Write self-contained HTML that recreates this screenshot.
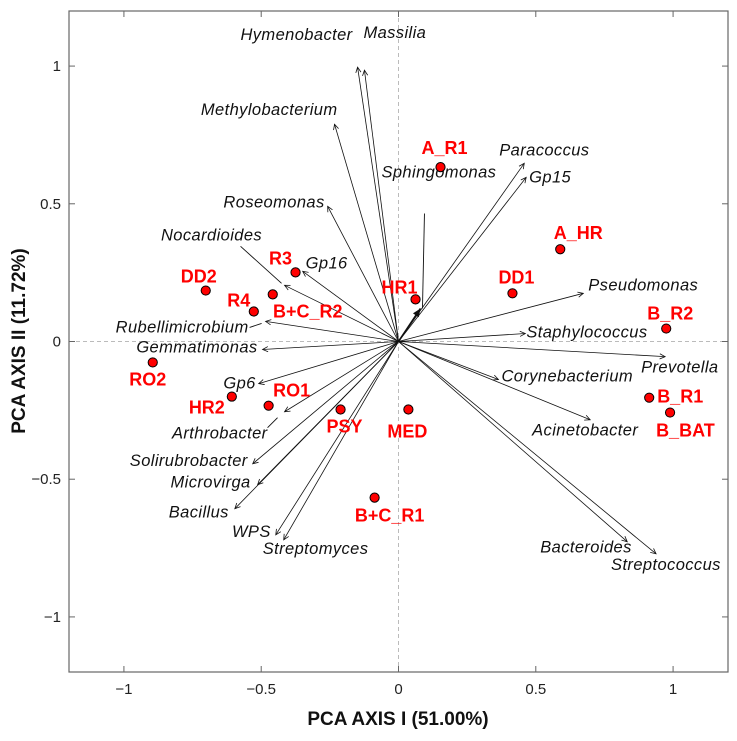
<!DOCTYPE html>
<html><head><meta charset="utf-8"><style>
html,body{margin:0;padding:0;background:#fff;}
svg{display:block;font-family:"Liberation Sans",sans-serif;}
</style></head><body>
<svg id="chart" width="737" height="741" viewBox="0 0 737 741" xmlns="http://www.w3.org/2000/svg">
<g id="grid"></g>
<g id="arrows"></g>
<g id="points"></g>
<g id="axes"></g>
<text x="398" y="725" text-anchor="middle" font-size="19" font-weight="bold" fill="#111">PCA AXIS I (51.00%)</text>
<text transform="translate(25,341) rotate(-90)" text-anchor="middle" font-size="19" font-weight="bold" fill="#111">PCA AXIS II (11.72%)</text>
</svg>
<script>
// ---- data ----
const sampleNames = ["A_R1","A_HR","DD1","HR1","B_R2","B_R1","B_BAT","MED","PSY","B+C_R1","RO1","HR2","RO2","DD2","R4","B+C_R2","R3"];
const sampleX = [0.153,0.589,0.415,0.062,0.975,0.913,0.989,0.036,-0.211,-0.087,-0.473,-0.607,-0.895,-0.702,-0.527,-0.458,-0.375];
const sampleY = [0.633,0.335,0.175,0.153,0.047,-0.204,-0.258,-0.247,-0.247,-0.567,-0.233,-0.2,-0.076,0.185,0.109,0.171,0.251];
const speciesNames = ["Hymenobacter","Massilia","Methylobacterium","Roseomonas","Nocardioides","Gp16","Rubellimicrobium","Gemmatimonas","Sphingomonas","Paracoccus","Gp15","Pseudomonas","Staphylococcus","Prevotella","Corynebacterium","Acinetobacter","Bacteroides","Streptococcus","Gp6","Arthrobacter","Solirubrobacter","Microvirga","Bacillus","WPS","Streptomyces"];
const speciesX = [-0.149,-0.124,-0.233,-0.258,-0.415,-0.349,-0.484,-0.495,0.08,0.458,0.465,0.673,0.462,0.971,0.364,0.698,0.833,0.938,-0.509,-0.415,-0.531,-0.513,-0.596,-0.447,-0.418];
const speciesY = [0.996,0.985,0.789,0.491,0.204,0.255,0.073,-0.029,0.12,0.647,0.596,0.175,0.029,-0.055,-0.138,-0.284,-0.727,-0.771,-0.153,-0.255,-0.444,-0.52,-0.607,-0.702,-0.72];
const xTicks = [-1,-0.5,0,0.5,1];
const yTicks = [-1,-0.5,0,0.5,1];
const xTickLabels = ["\u22121","\u22120.5","0","0.5","1"];
const yTickLabels = ["\u22121","\u22120.5","0","0.5","1"];

// ---- layout (styling) ----
const L=69,R=728,T=11,B=672;
const xMin=-1.2,xMax=1.2,yMin=-1.2,yMax=1.2;
const sx=v=>L+(v-xMin)/(xMax-xMin)*(R-L);
const sy=v=>B-(v-yMin)/(yMax-yMin)*(B-T);
const NS="http://www.w3.org/2000/svg";
function mk(tag,attrs,parent,txt){const e=document.createElementNS(NS,tag);for(const k in attrs)e.setAttribute(k,attrs[k]);if(txt!==undefined)e.textContent=txt;parent.appendChild(e);return e;}
const sampleLabelOff=[[4,-13,"middle"],[18,-10,"middle"],[4,-10,"middle"],[-16,-6,"middle"],[4,-9,"middle"],[8,5,"start"],[-14,24,"start"],[-1,28,"middle"],[4,23,"middle"],[15,24,"middle"],[23,-9,"middle"],[-25,17,"middle"],[-5,23,"middle"],[-7,-8,"middle"],[-15,-5,"middle"],[35,23,"middle"],[-15,-8,"middle"]];
const speciesLabelOff=[[-5,-27,"end"],[-1,-32,"start"],[3,-9,"end"],[-3,1,"end"],[-73,-45,"middle"],[3,-3,"start"],[-17,11,"end"],[-5,3,"end"],[-39,-131,"start"],[-25,-8,"start"],[3,5,"start"],[5,-3,"start"],[1,4,"start"],[-24,16,"start"],[3,2,"start"],[-58,16,"start"],[-87,11,"start"],[-45,16,"start"],[-3,5,"end"],[-17,27,"end"],[-5,2,"end"],[-7,3,"end"],[-6,9,"end"],[-5,2,"end"],[-21,14,"start"]];
const leaders={4:[[-3,-2],[-44,-39]],6:[[-4,2],[-16,6]],8:[[2,0],[4,-95]],19:[[-7,6],[-17,16]]};

const grid=document.getElementById('grid');
let gl=mk('line',{x1:sx(0),x2:sx(0),y1:T,y2:B,stroke:'#bbb','stroke-width':1,'stroke-dasharray':'4,3'},grid);


gl=mk('line',{x1:L,x2:R,y1:sy(0),y2:sy(0),stroke:'#bbb','stroke-width':1,'stroke-dasharray':'4,3'},grid);



const ag=document.getElementById('arrows');
const ox=sx(0),oy=sy(0);
speciesNames.forEach((n,i)=>{
  const tx=sx(speciesX[i]),ty=sy(speciesY[i]);
  const g=mk('g',{},ag);
  
  
  const thick=(i===8);
  mk('line',{x1:ox,y1:oy,x2:tx,y2:ty,stroke:'#111','stroke-width':thick?1.6:0.8},g);
  const a=Math.atan2(ty-oy,tx-ox),len=thick?9:6,w=thick?0.4:0.45;
  const p1=[tx-len*Math.cos(a-w),ty-len*Math.sin(a-w)],p2=[tx-len*Math.cos(a+w),ty-len*Math.sin(a+w)];
  if(thick){mk('polygon',{points:`${tx},${ty} ${p1[0]},${p1[1]} ${p2[0]},${p2[1]}`,fill:'#111'},g);}
  else{mk('polyline',{points:`${p1[0]},${p1[1]} ${tx},${ty} ${p2[0]},${p2[1]}`,fill:'none',stroke:'#111','stroke-width':0.8},g);}
  if(leaders[i]){const l=leaders[i];mk('line',{x1:tx+l[0][0],y1:ty+l[0][1],x2:tx+l[1][0],y2:ty+l[1][1],stroke:'#111','stroke-width':0.9},g);}
  const o=speciesLabelOff[i];
  const t=mk('text',{x:tx+o[0],y:ty+o[1],'text-anchor':o[2],'font-size':16.5,'font-style':'italic',fill:'#111','letter-spacing':'0.4'},g,n);
  
  
});

const pg=document.getElementById('points');
sampleNames.forEach((n,i)=>{
  const px=sx(sampleX[i]),py=sy(sampleY[i]);
  const c=mk('circle',{cx:px,cy:py,r:4.6,fill:'#f00',stroke:'#000','stroke-width':1},pg);
  
  
  const o=sampleLabelOff[i];
  const t=mk('text',{x:px+o[0],y:py+o[1],'text-anchor':o[2],'font-size':18,'font-weight':'bold',fill:'#f00'},pg,n);
  
  
});

const ax=document.getElementById('axes');
const fr=mk('rect',{x:L,y:T,width:R-L,height:B-T,fill:'none',stroke:'#666','stroke-width':1.2},ax);


xTicks.forEach((v,i)=>{
  const x=sx(v);
  mk('line',{x1:x,x2:x,y1:B,y2:B-6,stroke:'#666'},ax);
  mk('line',{x1:x,x2:x,y1:T,y2:T+6,stroke:'#666'},ax);
  const t=mk('text',{x:x,y:B+22,'text-anchor':'middle','font-size':15,fill:'#222'},ax,xTickLabels[i]);
  
  
});
yTicks.forEach((v,i)=>{
  const y=sy(v);
  mk('line',{x1:L,x2:L+6,y1:y,y2:y,stroke:'#666'},ax);
  mk('line',{x1:R,x2:R-6,y1:y,y2:y,stroke:'#666'},ax);
  const t=mk('text',{x:L-8,y:y+5,'text-anchor':'end','font-size':15,fill:'#222'},ax,yTickLabels[i]);
  
  
});
</script>
</body></html>
